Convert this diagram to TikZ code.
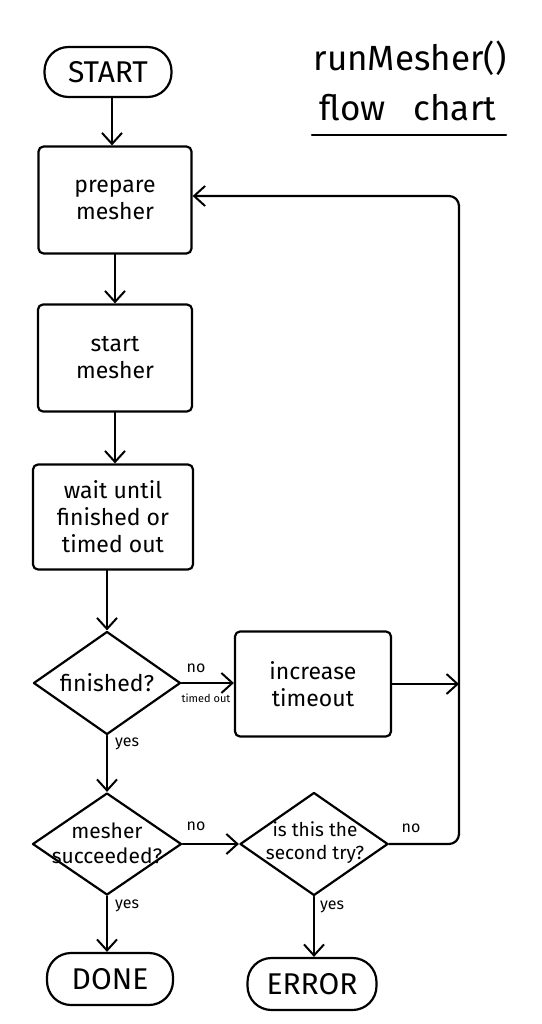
\documentclass[tikz,border=0pt]{standalone}
\usepackage{fontspec}
\setmainfont{Fira Sans}
\usetikzlibrary{shapes.geometric,arrows.meta}
\tikzset{
  line/.style={line width=2.2pt, line cap=round, line join=round},
  arr/.style={line, -{Straight Barb[length=11pt,width=20pt,line width=2pt]}},
  box/.style={draw, line, rounded corners=5pt, inner sep=0pt},
  term/.style={draw, line, rounded corners=24pt, inner sep=0pt},
  dia/.style={draw, line, diamond, inner sep=0pt},
  txt/.style={align=center, font=\fontsize{23}{27}\selectfont},
  big/.style={align=center, font=\fontsize{30}{32}\selectfont},
  lbl/.style={font=\fontsize{16}{17}\selectfont},
  tiny/.style={font=\fontsize{11}{12}\selectfont},
}
\begin{document}
\begin{tikzpicture}[x=1pt,y=-1pt]
\useasboundingbox (0,0) rectangle (541,1024);
% title
\node[font=\fontsize{35}{38}\selectfont] (t1) at (410,58) {runMesher()};
\node[font=\fontsize{35}{38}\selectfont] (t2) at (408,108) {flow\ \ \ chart};
\coordinate (ul1) at (312,135);
\coordinate (ul2) at (506,135);
\draw[line] (ul1) -- (ul2);
% nodes
\node[term, minimum width=127pt, minimum height=50pt, big] (start) at (108,72) {START};
\node[box, minimum width=153pt, minimum height=107pt, txt] (prep) at (115,200) {prepare\\mesher};
\node[box, minimum width=154pt, minimum height=107pt, txt] (sm) at (115,358) {start\\mesher};
\node[box, minimum width=160pt, minimum height=105pt, txt] (wait) at (113,517) {wait until\\finished or\\timed out};
\node[dia, minimum width=147pt, minimum height=103pt] (fin) at (107,683) {};
\node[txt] (fint) at (fin) {finished?};
\node[box, minimum width=156pt, minimum height=105pt, txt] (inc) at (313,684) {increase\\timeout};
\node[dia, minimum width=149pt, minimum height=102pt] (suc) at (107,844) {};
\node[align=center, font=\fontsize{21}{25}\selectfont] (suct) at (107,843) {mesher\\succeeded?};
\node[dia, minimum width=148pt, minimum height=103pt] (sec) at (314,844) {};
\node[align=center, font=\fontsize{19}{23}\selectfont] (sect) at (315,843) {is this the\\second try?};
\node[term, minimum width=126pt, minimum height=52pt, big] (done) at (110,979) {DONE};
\node[term, minimum width=129pt, minimum height=52pt, big] (err) at (312,984) {ERROR};
% connectors
\draw[arr] (start.south -| 112,0) -- (prep.north -| 112,0);
\draw[arr] (prep) -- (sm);
\draw[arr] (sm) -- (wait.north -| sm);
\draw[arr] (wait.south -| fin) -- (fin);
\draw[arr] (fin.east) -- (inc.west |- fin.east);
\draw[arr] (fin) -- (suc);
\draw[arr] (suc) -- (done.north -| suc);
\draw[arr] (suc.east) -- (sec.west);
\draw[arr] (sec) -- (err.north -| sec);
\coordinate (rb) at (459,844);
\coordinate (rt) at (459,196);
\draw[arr, rounded corners=10pt] (sec.east) -- (rb) -- (rt) -- (prep.east |- rt);
\draw[arr] (inc.east) -- (inc.east -| rt);
% labels
\node[lbl] (l1) at (196,668) {no};
\node[tiny] (l2) at (206,698) {timed out};
\node[lbl] (l3) at (127,744) {yes};
\node[lbl] (l4) at (196,826) {no};
\node[lbl] (l5) at (411,828) {no};
\node[lbl] (l6) at (127,906) {yes};
\node[lbl] (l7) at (332,907) {yes};
\end{tikzpicture}
\end{document}
